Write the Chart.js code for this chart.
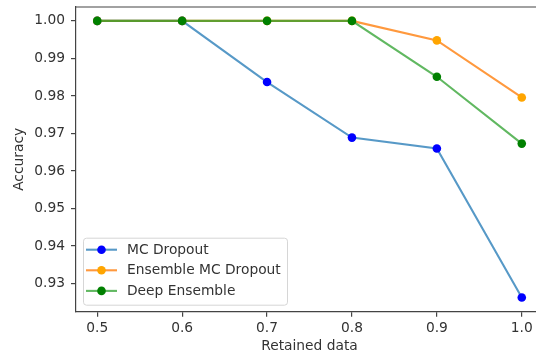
<!DOCTYPE html>
<html>
<head>
<meta charset="utf-8">
<script src="https://cdn.jsdelivr.net/npm/chart.js@4.4.0/dist/chart.umd.min.js"></script>
<style>
  html, body { margin: 0; padding: 0; background: #fff; overflow: hidden; }
  #wrap { position: absolute; left: 0; top: 0; width: 536px; height: 355px; overflow: hidden; }
  #myChart { position: absolute; left: 0; top: 0; }
</style>
</head>
<body>
<div id="wrap"><canvas id="myChart" width="560" height="355"></canvas></div>
<script>
// Data
const retained = [0.5, 0.6, 0.7, 0.8, 0.9, 1.0];
const mcDropout = [1.0, 1.0, 0.9837, 0.9689, 0.9660, 0.9263];
const ensembleMcDropout = [1.0, 1.0, 1.0, 1.0, 0.9948, 0.9796];
const deepEnsemble = [1.0, 1.0, 1.0, 1.0, 0.9851, 0.9673];
const xTicks = [0.5, 0.6, 0.7, 0.8, 0.9, 1.0];
const yTicks = [0.93, 0.94, 0.95, 0.96, 0.97, 0.98, 0.99, 1.00];

const FONT = 'DejaVu Sans';
const FSIZE = 13.8;
const textColor = '#333';
const axisColor = '#444';

function points(ys) {
    return retained.map((x, i) => ({ x: x, y: ys[i] }));
}

function series(label, ys, lineColor, dotColor, order) {
    return {
        label: label,
        data: points(ys),
        borderColor: lineColor,
        backgroundColor: dotColor,
        pointBackgroundColor: dotColor,
        pointBorderColor: dotColor,
        pointBorderWidth: 0,
        pointRadius: 4.3,
        borderWidth: 2.1,
        tension: 0,
        order: order
    };
}

// top spine + in-plot legend like matplotlib
const extras = {
    id: 'extras',
    afterDraw(chart) {
        const ctx = chart.ctx;
        const a = chart.chartArea;
        ctx.save();
        ctx.strokeStyle = axisColor;
        ctx.lineWidth = 1.2;
        ctx.beginPath();
        ctx.moveTo(a.left, a.top);
        ctx.lineTo(a.right, a.top);
        ctx.stroke();

        const x0 = a.left + 7, w = 204, h = 67;
        const y0 = a.bottom - 7 - h;
        ctx.beginPath();
        ctx.roundRect(x0 + 0.5, y0 + 0.5, w, h, 3);
        ctx.fillStyle = 'rgba(255,255,255,0.8)';
        ctx.fill();
        ctx.strokeStyle = '#d6d6d6';
        ctx.lineWidth = 1;
        ctx.stroke();

        ctx.font = FSIZE + 'px "' + FONT + '"';
        ctx.textBaseline = 'middle';
        ctx.textAlign = 'left';
        chart.data.datasets.forEach((ds, i) => {
            const y = y0 + 12 + i * 20.6;
            ctx.strokeStyle = ds.borderColor;
            ctx.lineWidth = ds.borderWidth;
            ctx.beginPath();
            ctx.moveTo(x0 + 3, y);
            ctx.lineTo(x0 + 34, y);
            ctx.stroke();
            ctx.fillStyle = ds.pointBackgroundColor;
            ctx.beginPath();
            ctx.arc(x0 + 18.5, y, ds.pointRadius, 0, Math.PI * 2);
            ctx.fill();
            ctx.fillStyle = textColor;
            ctx.fillText(ds.label, x0 + 44, y + 0.5);
        });
        ctx.restore();
    }
};

const ctx = document.getElementById('myChart').getContext('2d');
const myChart = new Chart(ctx, {
    type: 'line',
    data: {
        datasets: [
            series('MC Dropout', mcDropout, 'rgba(31,119,180,0.75)', '#0000ff', 2),
            series('Ensemble MC Dropout', ensembleMcDropout, 'rgba(255,127,14,0.8)', '#ffa500', 1),
            series('Deep Ensemble', deepEnsemble, 'rgba(44,160,44,0.75)', '#008000', 0)
        ]
    },
    options: {
        responsive: false,
        devicePixelRatio: 1,
        animation: false,
        layout: { padding: { left: 0, top: 7, right: 17, bottom: 0 } },
        plugins: {
            legend: { display: false },
            tooltip: { enabled: false }
        },
        scales: {
            x: {
                type: 'linear',
                min: 0.475,
                max: 1.025,
                afterBuildTicks: s => { s.ticks = xTicks.map(v => ({ value: v })); },
                afterFit: s => { s.height = 43.3; s.paddingLeft = 0; s.paddingRight = 0; },
                grid: { display: true, drawOnChartArea: false, drawTicks: true, tickLength: 5, color: axisColor, lineWidth: 1.2 },
                border: { display: true, color: axisColor, width: 1.2 },
                ticks: {
                    padding: 3,
                    color: textColor,
                    font: { family: FONT, size: FSIZE },
                    maxRotation: 0,
                    callback: v => v.toFixed(1)
                },
                title: {
                    display: true,
                    text: 'Retained data',
                    color: textColor,
                    font: { family: FONT, size: FSIZE },
                    padding: { top: 0, bottom: 0 }
                }
            },
            y: {
                min: 0.9225,
                max: 1.0037,
                afterBuildTicks: s => { s.ticks = yTicks.map(v => ({ value: v })); },
                afterFit: s => { s.width = 76; s.paddingTop = 0; s.paddingBottom = 0; },
                grid: { display: true, drawOnChartArea: false, drawTicks: true, tickLength: 5, color: axisColor, lineWidth: 1.2 },
                border: { display: true, color: axisColor, width: 1.2 },
                ticks: {
                    padding: 6,
                    color: textColor,
                    font: { family: FONT, size: FSIZE },
                    callback: v => v.toFixed(2)
                },
                title: {
                    display: true,
                    text: 'Accuracy',
                    color: textColor,
                    font: { family: FONT, size: FSIZE },
                    padding: { top: 11.6, bottom: 0 }
                }
            }
        }
    },
    plugins: [extras]
});
</script>
</body>
</html>
